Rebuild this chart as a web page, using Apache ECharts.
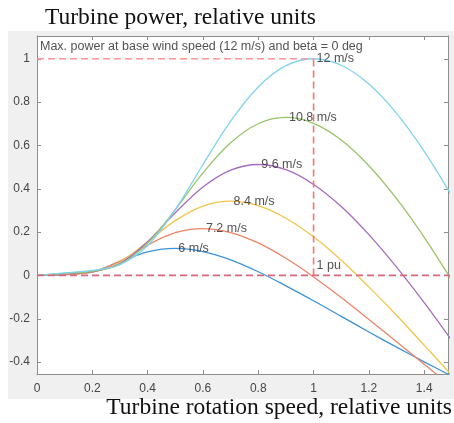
<!DOCTYPE html>
<html>
<head>
<meta charset="utf-8">
<script src="https://cdn.jsdelivr.net/npm/echarts@6/dist/echarts.min.js"></script>
<style>
  html, body { margin: 0; padding: 0; background: #fff; }
  #chart { width: 454px; height: 423px; }
</style>
</head>
<body>
<div id="chart"></div>
<script>
// rotor speed, pu
const xs = [0, 0.1, 0.2, 0.3, 0.4, 0.5, 0.6, 0.7, 0.8, 0.9, 1.0, 1.1, 1.2, 1.3, 1.4, 1.5];

// turbine power, pu, one list per wind speed
const p6   = [0, 0.003, 0.017, 0.064, 0.109, 0.125, 0.110, 0.072, 0.017, -0.048, -0.117, -0.189, -0.261, -0.331, -0.399, -0.465];
const p7_2 = [0, 0.004, 0.015, 0.066, 0.140, 0.197, 0.216, 0.198, 0.150, 0.079, -0.007, -0.102, -0.203, -0.306, -0.410, -0.512];
const p8_4 = [0, 0.006, 0.015, 0.061, 0.155, 0.253, 0.320, 0.343, 0.322, 0.264, 0.178, 0.070, -0.053, -0.184, -0.322, -0.462];
const p9_6 = [0, 0.007, 0.016, 0.055, 0.156, 0.289, 0.408, 0.486, 0.512, 0.488, 0.420, 0.318, 0.188, 0.038, -0.126, -0.301];
const p10_8 = [0, 0.009, 0.019, 0.051, 0.149, 0.304, 0.473, 0.612, 0.700, 0.729, 0.702, 0.625, 0.506, 0.354, 0.176, -0.023];
const p12  = [0, 0.012, 0.023, 0.050, 0.138, 0.304, 0.512, 0.712, 0.870, 0.968, 1.000, 0.970, 0.883, 0.748, 0.573, 0.367];

const speeds = ['6 m/s', '7.2 m/s', '8.4 m/s', '9.6 m/s', '10.8 m/s', '12 m/s'];
const powers = [p6, p7_2, p8_4, p9_6, p10_8, p12];
const colors = ['#3d93d8', '#ee8466', '#f2c44a', '#a66bc0', '#98c468', '#80d2f2'];

// peaks where the speed labels sit
const peakX = [0.5, 0.6, 0.7, 0.8, 0.9, 1.0];
const peakY = [0.125, 0.216, 0.343, 0.512, 0.729, 1.0];

// reference lines
const ratedPower = [[0, 1], [1, 1]];
const ratedSpeed = [[1, 0], [1, 1]];
const zeroPower = [[0, 0], [1.5, 0]];

const noteText = 'Max. power at base wind speed (12 m/s) and beta = 0 deg';
const notePos = [0, 1.057];
const puText = '1 pu';
const puPos = [1, 0.047];

const axisGray = '#8e8e8e';
const labelFont = 'Liberation Sans';

let chart = echarts.init(document.getElementById('chart'), null, { renderer: 'canvas' });

function valueAxis(pos, min, max, split, labels) {
    return {
        type: 'value',
        position: pos,
        min: min,
        max: max,
        splitNumber: split,
        axisLine: { show: true, onZero: false, lineStyle: { color: axisGray, width: 1 } },
        axisTick: { show: true, inside: true, length: 4, lineStyle: { color: axisGray } },
        axisLabel: {
            show: labels,
            color: '#454545',
            fontSize: 12,
            fontFamily: labelFont,
            margin: pos === 'bottom' ? 9 : 7,
            showMinLabel: pos === 'bottom',
            showMaxLabel: false
        },
        splitLine: { show: false }
    };
}

let curveSeries = powers.map((p, i) => ({
    name: speeds[i],
    type: 'line',
    data: xs.map((x, j) => [x, p[j]]),
    smooth: 0.35,
    showSymbol: false,
    lineStyle: { color: colors[i], width: 1.3 },
    z: 3
}));

function dashed(data, color) {
    return {
        type: 'line',
        data: data,
        showSymbol: false,
        lineStyle: { color: color, width: 1.6, type: [7, 4] },
        z: 4
    };
}

function textMark(items, dist) {
    return {
        type: 'scatter',
        symbolSize: 0,
        data: items,
        label: {
            show: true,
            position: 'right',
            distance: dist,
            formatter: '{b}',
            color: '#262626',
            fontSize: 12.5,
            fontFamily: labelFont
        },
        z: 6
    };
}

let option = {
    animation: false,
    backgroundColor: '#fff',
    grid: { left: 37, right: 6, top: 36, bottom: 49, show: true, backgroundColor: '#fff', borderWidth: 0 },
    xAxis: [valueAxis('bottom', 0, 1.486, 7, true), valueAxis('top', 0, 1.486, 7, false)],
    yAxis: [valueAxis('left', -0.455, 1.105, 8, true), valueAxis('right', -0.455, 1.105, 8, false)],
    graphic: [
        { type: 'rect', z: -10, shape: { x: 8, y: 31, width: 446, height: 368 }, style: { fill: '#f0f0f0' } },
        {
            type: 'text', left: 45, top: 6,
            style: { text: 'Turbine power, relative units', font: '23.5px "Liberation Serif"', fill: '#111' }
        },
        {
            type: 'text', right: 2, top: 396,
            style: { text: 'Turbine rotation speed, relative units', font: '23.5px "Liberation Serif"', fill: '#111' }
        }
    ],
    series: [
        dashed(zeroPower, '#d9687c'),
        dashed(ratedPower, '#ff9499'),
        dashed(ratedSpeed, '#ff7070'),
        ...curveSeries,
        textMark(peakX.map((x, i) => ({ value: [x, peakY[i]], name: speeds[i] })), 3),
        textMark([{ value: notePos, name: noteText }, { value: puPos, name: puText }], 3)
    ]
};

chart.setOption(option);
</script>
</body>
</html>
